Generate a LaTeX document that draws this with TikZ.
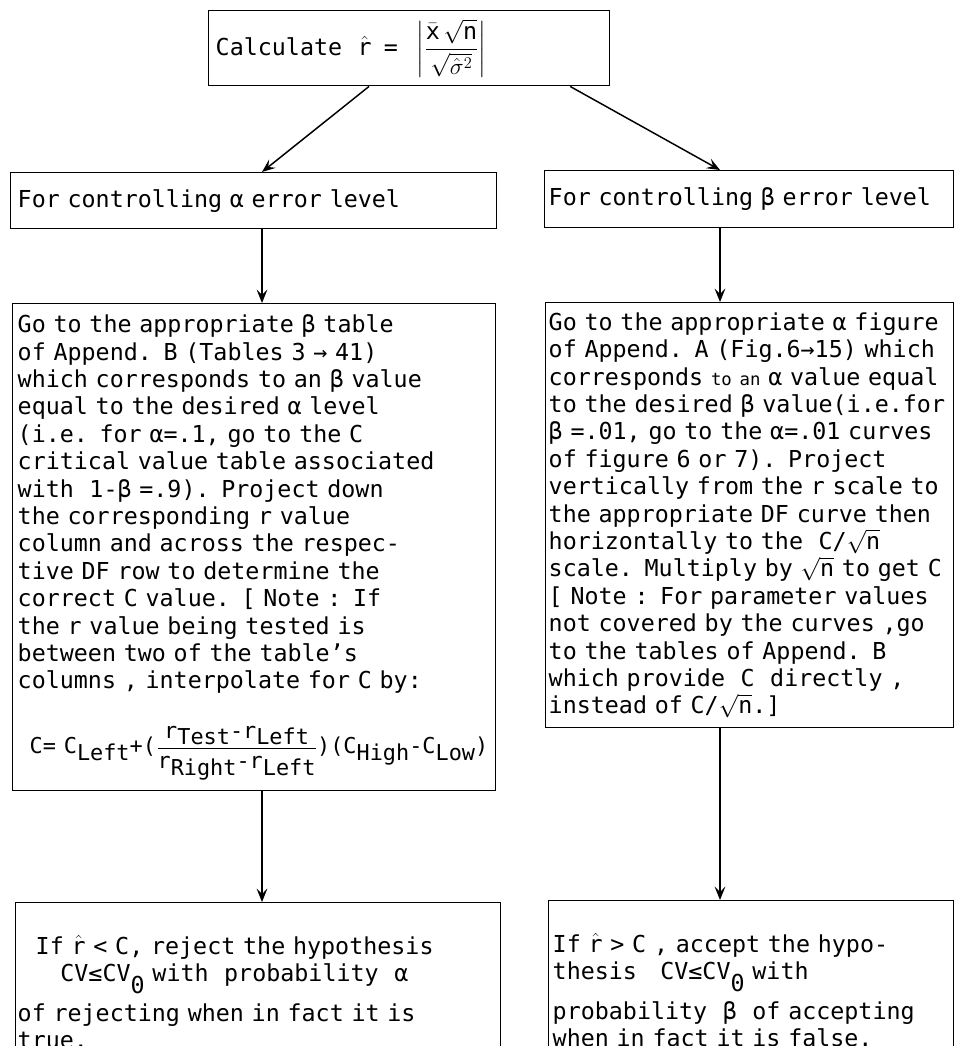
\RequirePackage{fix-cm}
\documentclass[tikz,border=0pt]{standalone}
\usepackage{amsmath}
\usepackage{fontspec}
\setmainfont{DejaVu Sans Mono}
\usetikzlibrary{positioning, arrows.meta, calc}
\newcommand{\lowtext}[1]{\raisebox{-0.55ex}{#1}}

\begin{document}
\begin{tikzpicture}[x=0.75pt, y=-0.75pt,
    font={\fontsize{17.5}{20.55}\selectfont\lineskiplimit=-50pt},
    box/.style={rectangle, draw, line width=1.1pt, anchor=north west, align=left, inner xsep=3.75pt, inner ysep=0pt},
    flow/.style={line width=1.1pt, -{Stealth[length=10pt, width=8pt, inset=4pt]}}]
    \useasboundingbox (0,0) rectangle (956,1046);
    \clip (0,0) rectangle (956,1046);
    \coordinate (leftcol) at (262,0);
    \coordinate (rightcol) at (720,0);

    \node[box, inner xsep=5.25pt, text width=290.25pt, minimum height=56.25pt] (calc) at (208,10)
        {Calculate~~$\hat{\mathrm{r}}$\hspace{9pt}=\hspace{14pt}$\left|\dfrac{\bar{\mathrm{x}}\,\sqrt{\mathrm{n}}}{\sqrt{\hat{\sigma}^{2}}}\right|$};
    \node[box, inner xsep=5.25pt, text width=354pt, minimum height=42pt] (alphahead) at (10,172) {For controlling α error level};
    \node[box, inner xsep=3pt, text width=300.75pt, minimum height=42.75pt] (betahead) at (544,170) {For controlling β error level};

    \node[box, text width=354.75pt, minimum height=365.25pt] (alphastep) at (12,303)
        {Go to the appropriate β table\\
        of Append. B (Tables 3 → 41)\\
        which corresponds to an β value\\
        equal to the desired α level\\
        (i.e. for α=.1, go to the C\\
        critical value table associated\\
        with~~1-β =.9). Project down\\
        the corresponding r value\\
        column and across the respec-\\
        tive DF row to determine the\\
        correct C value. [ Note : If\\
        the r value being tested is\\
        between two of the table’s\\
        columns , interpolate for C by:\\[28pt]
        {\fontsize{16.4}{20.55}\selectfont\hspace*{9pt}C=~C\lowtext{Left}+($\dfrac{\mbox{r\lowtext{Test}-r\lowtext{Left}}}{\mbox{r\lowtext{Right}-r\lowtext{Left}}}$)(C\lowtext{High}-C\lowtext{Low})}};
    \node[box, inner xsep=2.25pt, text width=301.5pt, minimum height=318.75pt] (betastep) at (545,302)
        {Go to the appropriate α figure\\
        of Append. A (Fig.6→15) which\\
        corresponds {\fontsize{13}{20.55}\selectfont to an} α value equal\\
        to the desired β value(i.e.for\\
        β =.01, go to the α=.01 curves\\
        of figure 6 or 7). Project\\
        vertically from the r scale to\\
        the appropriate DF curve then\\
        horizontally to the~~C/$\sqrt{\mathrm{n}}$\\
        scale. Multiply by $\sqrt{\mathrm{n}}$ to get C\\
        {[} Note : For parameter values\\
        not covered by the curves ,go\\
        to the tables of Append. B\\
        which provide~~C~~directly ,\\
        instead of C/$\sqrt{\mathrm{n}}$.]};

    \node[box, inner xsep=1.5pt, text width=360.75pt, minimum height=134pt] (alphadecide) at (15,902)
        {\hspace*{13.5pt}If $\hat{\mathrm{r}}$ < C, reject the hypothesis\\
        \hspace*{32pt}CV≤CV\raisebox{-0.9ex}{0} with~~probability~~α\\[9pt]
        of rejecting when in fact it is\\
        true.};
    \node[box, inner xsep=3pt, text width=297.75pt, minimum height=134pt] (betadecide) at (548,900)
        {If $\hat{\mathrm{r}}$ > C , accept the hypo-\\
        thesis~~~CV≤CV\raisebox{-0.9ex}{0}~with\\[9pt]
        probability~~β~~of accepting\\
        when in fact it is false.};

    \draw[flow] ($(calc.south west)!0.4!(calc.south east)$) -- (alphahead.north -| leftcol);
    \draw[flow] ($(calc.south west)!0.9!(calc.south east)$) -- (betahead.north -| rightcol);
    \draw[flow] (alphahead.south -| leftcol) -- (alphastep.north -| leftcol);
    \draw[flow] (betahead.south -| rightcol) -- (betastep.north -| rightcol);
    \draw[flow] (alphastep.south -| leftcol) -- (alphadecide.north -| leftcol);
    \draw[flow] (betastep.south -| rightcol) -- (betadecide.north -| rightcol);
\end{tikzpicture}
\end{document}
